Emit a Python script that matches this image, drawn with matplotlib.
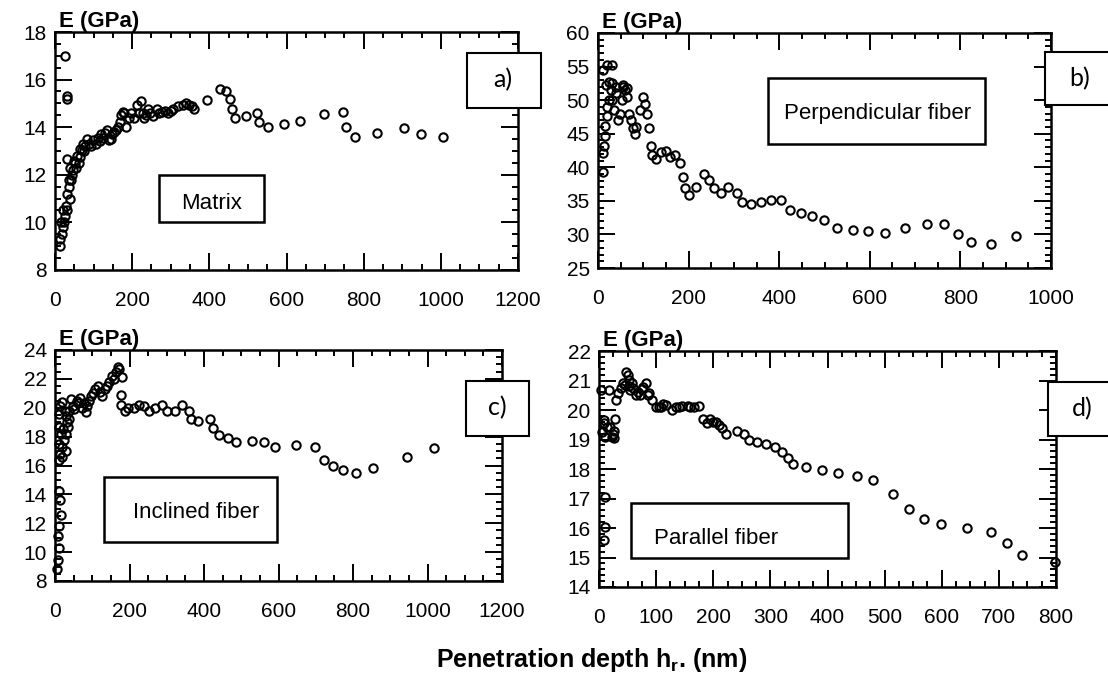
import matplotlib
matplotlib.use('Agg')
import matplotlib.pyplot as plt
from matplotlib.patches import Rectangle
from matplotlib.ticker import MultipleLocator

plt.rcParams['font.family'] = ['Liberation Sans', 'DejaVu Sans']
plt.rcParams['mathtext.fontset'] = 'custom'
plt.rcParams['mathtext.rm'] = 'Liberation Sans:bold'
plt.rcParams['mathtext.bf'] = 'Liberation Sans:bold'

# a) matrix
xa = [14, 18, 21, 25, 26, 28, 31, 32, 32, 37, 39, 42, 46, 51, 62, 65, 70, 79, 88, 99,
      111, 120, 130, 139, 148, 153, 162, 171, 176, 185, 192, 204, 213, 222, 227, 231, 241, 255, 264, 278,
      292, 306, 319, 333, 348, 361, 394, 427, 442, 454, 459, 466, 494, 524, 530, 551, 593, 635, 698, 746,
      755, 778, 834, 904, 948, 1006,
      12, 16, 20, 24, 30, 35, 40, 44, 48, 55, 58, 66, 72, 75, 84, 94, 105, 116, 125, 135,
      145, 158, 168, 180, 196, 218, 236, 246, 270, 285, 300, 340, 355, 30]
ya = [9.0, 9.5, 9.8, 10.25, 17.0, 10.7, 15.2, 12.65, 11.2, 11.5, 11.0, 11.8, 12.2, 12.5, 12.5, 12.75, 13.05, 13.2, 13.3, 13.45,
      13.55, 13.7, 13.75, 13.45, 13.7, 13.8, 14.0, 14.5, 14.65, 14.0, 14.4, 14.4, 14.95, 15.1, 14.6, 14.4, 14.75, 14.45, 14.75, 14.65,
      14.6, 14.75, 14.9, 14.95, 14.95, 14.75, 15.15, 15.6, 15.5, 15.2, 14.75, 14.4, 14.45, 14.6, 14.2, 14.0, 14.15, 14.25, 14.55, 14.65,
      14.0, 13.6, 13.75, 13.95, 13.7, 13.6,
      9.3, 10.0, 10.5, 10.0, 10.5, 11.8, 12.3, 12.0, 12.6, 12.3, 12.8, 13.1, 13.3, 13.0, 13.5, 13.2, 13.3, 13.4, 13.55, 13.9,
      13.5, 13.9, 14.2, 14.6, 14.6, 14.6, 14.5, 14.6, 14.6, 14.7, 14.7, 15.0, 14.9, 15.3]

# b) perpendicular fiber
xb = [10, 12, 14, 16, 16, 20, 20, 24,
      12, 20, 30, 28, 32, 36, 40, 44, 48, 52, 56, 60, 64, 68, 73, 78, 81, 84, 92, 100,
      104, 109, 112, 116, 120, 128, 140, 150, 160, 169, 180, 188, 192, 200, 217, 233, 246, 256, 272, 288,
      307, 317, 338, 359, 383, 403, 423, 449, 473, 498, 527, 563, 595, 633, 677, 727, 764, 795, 824, 867, 922,
      18, 24, 32, 40, 56, 64]
yb = [42.1, 39.3, 43.1, 44.6, 46.1, 47.6, 49.0, 50.0,
      54.5, 55.3, 55.3, 51.5, 50.0, 48.5, 51.0, 47.0, 48.0, 50.0, 52.0, 51.5, 50.5, 48.0, 47.0, 45.8, 45.0, 46.0, 48.5, 50.5,
      49.5, 48.0, 45.8, 43.1, 41.8, 41.3, 42.3, 42.5, 41.6, 41.8, 40.7, 38.6, 36.9, 35.9, 37.0, 39.0, 38.1, 36.9, 36.1, 37.1,
      36.2, 34.9, 34.5, 34.9, 35.2, 35.1, 33.7, 33.2, 32.8, 32.1, 30.9, 30.7, 30.5, 30.2, 30.9, 31.6, 31.5, 30.0, 28.8, 28.5, 29.7,
      52.2, 52.7, 52.5, 52.0, 52.3, 51.8]

# c) inclined fiber
xc = [5, 7, 10, 8, 12, 16, 14, 12, 10, 14, 19, 24, 29, 34, 38, 16, 10, 10, 14, 19,
      29, 38, 48, 58, 67, 77, 82, 91, 101, 108, 115, 125, 134, 144, 153, 163, 173, 179, 177, 177,
      187, 197, 211, 225, 240, 252, 268, 288, 300, 321, 340, 359, 366, 385, 417, 425, 441, 465, 487, 529,
      561, 590, 647, 697, 722, 745, 774, 807, 853, 944, 1018,
      12, 18, 22, 26, 30, 32, 42, 52, 62, 72, 86, 96, 120, 140, 158, 168]
yc = [8.8, 9.45, 10.3, 11.1, 11.8, 12.6, 13.6, 14.2, 16.4, 16.8, 17.3, 17.8, 18.2, 18.7, 19.2, 18.2, 18.7, 19.6, 20.1, 20.4,
      19.4, 19.8, 20.1, 20.5, 20.7, 20.3, 19.7, 20.5, 21.0, 21.3, 21.5, 20.8, 21.3, 21.8, 22.2, 22.5, 22.7, 22.1, 20.9, 20.2,
      19.8, 20.0, 20.0, 20.2, 20.1, 19.8, 20.0, 20.2, 19.8, 19.8, 20.2, 19.8, 19.2, 19.1, 19.2, 18.6, 18.1, 17.9, 17.6, 17.7,
      17.6, 17.3, 17.4, 17.3, 16.4, 16.0, 15.7, 15.5, 15.8, 16.6, 17.2,
      17.5, 16.6, 18.5, 19.8, 17.0, 19.0, 20.6, 19.9, 20.3, 20.0, 20.1, 20.8, 21.1, 21.5, 22.0, 22.8]

# d) parallel fiber
xd = [4, 8, 6, 8, 11, 14, 11, 11, 9, 17, 20, 23, 27, 28, 30, 33, 39, 46, 50, 52,
      55, 60, 65, 71, 77, 82, 87, 93, 99, 109, 118, 128, 134, 145, 155, 166, 175, 182, 189, 199,
      210, 215, 223, 242, 254, 262, 276, 292, 308, 321, 330, 340, 362, 390, 419, 451, 480, 515, 543, 569,
      599, 645, 686, 715, 741, 798,
      42, 48, 53, 58, 68, 75, 85, 105, 112, 140, 160, 195, 205, 25, 26]
yd = [20.68, 19.66, 19.26, 19.55, 19.1, 19.43, 17.06, 16.04, 15.59, 20.68, 19.43, 19.1, 19.04, 19.7, 20.34, 20.56, 20.73, 20.85, 21.19, 21.02,
      20.68, 20.73, 20.51, 20.51, 20.79, 20.9, 20.56, 20.34, 20.11, 20.09, 20.17, 20.0, 20.09, 20.13, 20.13, 20.11, 20.13, 19.71, 19.57, 19.6,
      19.49, 19.38, 19.18, 19.28, 19.2, 18.98, 18.92, 18.84, 18.75, 18.58, 18.36, 18.17, 18.07, 17.98, 17.85, 17.77, 17.64, 17.14, 16.66, 16.32,
      16.15, 16.0, 15.85, 15.5, 15.1, 14.85,
      20.9, 21.3, 20.8, 20.9, 20.6, 20.7, 20.5, 20.1, 20.2, 20.1, 20.1, 19.7, 19.6, 19.2, 19.3]

W, H = 1108, 680
fig = plt.figure(figsize=(W / 100, H / 100), dpi=100)


def rect(x0, y0, x1, y1):
    # pixel box -> figure fraction [left, bottom, width, height]
    return [x0 / W, 1 - y1 / H, (x1 - x0) / W, (y1 - y0) / H]


def panel(box, x, y, xlim, ylim, xmaj, xmin, ymaj, ymin):
    ax = fig.add_axes(rect(*box))
    ax.plot(x, y, 'o', mfc='none', mec='black', ms=6, mew=1.5, clip_on=False)
    ax.set_xlim(*xlim)
    ax.set_ylim(*ylim)
    ax.xaxis.set_major_locator(MultipleLocator(xmaj))
    ax.xaxis.set_minor_locator(MultipleLocator(xmin))
    ax.yaxis.set_major_locator(MultipleLocator(ymaj))
    ax.yaxis.set_minor_locator(MultipleLocator(ymin))
    ax.tick_params(which='both', direction='in', top=True, right=True, width=1.4)
    ax.tick_params(which='major', length=12, labelsize=15)
    ax.tick_params(which='minor', length=4)
    ax.tick_params(axis='x', which='major', pad=15)
    ax.tick_params(axis='y', which='major', pad=6)
    for s in ax.spines.values():
        s.set_linewidth(1.8)
    ax.text(0.008, 1.0, 'E (GPa)', transform=ax.transAxes, ha='left', va='bottom',
            fontsize=16, fontweight='bold')
    return ax


panel((55, 32, 518, 270), xa, ya, (0, 1200), (8, 18), 200, 50, 2, 0.5)
panel((598, 33, 1051, 268), xb, yb, (0, 1000), (25, 60), 200, 50, 5, 1)
panel((55, 350, 502, 581), xc, yc, (0, 1200), (8, 24), 200, 50, 2, 0.5)
panel((599, 351, 1056, 587), xd, yd, (0, 800), (14, 22), 100, 25, 1, 0.2)


def box_label(x0, y0, x1, y1, text, tx, ty, size, family, lw=1.5):
    fig.add_artist(Rectangle((x0 / W, 1 - y1 / H), (x1 - x0) / W, (y1 - y0) / H,
                             transform=fig.transFigure, facecolor='white', edgecolor='black',
                             linewidth=lw, zorder=5))
    fig.text(tx / W, 1 - ty / H, text, ha='center', va='center', fontsize=size,
             family=family, zorder=6)


# panel letters
box_label(467, 53, 541, 108, 'a)', 503, 80, 18, 'Lato')
box_label(1045, 52, 1112, 105, 'b)', 1080, 79, 18, 'Lato')
box_label(466, 381, 529, 436, 'c)', 497, 408, 18, 'Lato')
box_label(1048, 382, 1112, 436, 'd)', 1082, 409, 18, 'Lato')

# material labels
box_label(159, 175, 264, 222, 'Matrix', 212, 203, 16, 'Liberation Sans', lw=1.8)
box_label(768, 78, 985, 144, 'Perpendicular fiber', 878, 114, 16, 'Liberation Sans', lw=1.8)
box_label(104, 477, 277, 542, 'Inclined fiber', 196, 513, 16, 'Liberation Sans', lw=1.8)
box_label(631, 503, 848, 558, 'Parallel fiber', 716, 538, 16, 'Liberation Sans', lw=1.8)

fig.text(592 / W, 1 - 660 / H, r'Penetration depth h$_\mathrm{r}$. (nm)', ha='center', va='center',
         fontsize=18, fontweight='bold')

plt.savefig('out.png', dpi=100)
